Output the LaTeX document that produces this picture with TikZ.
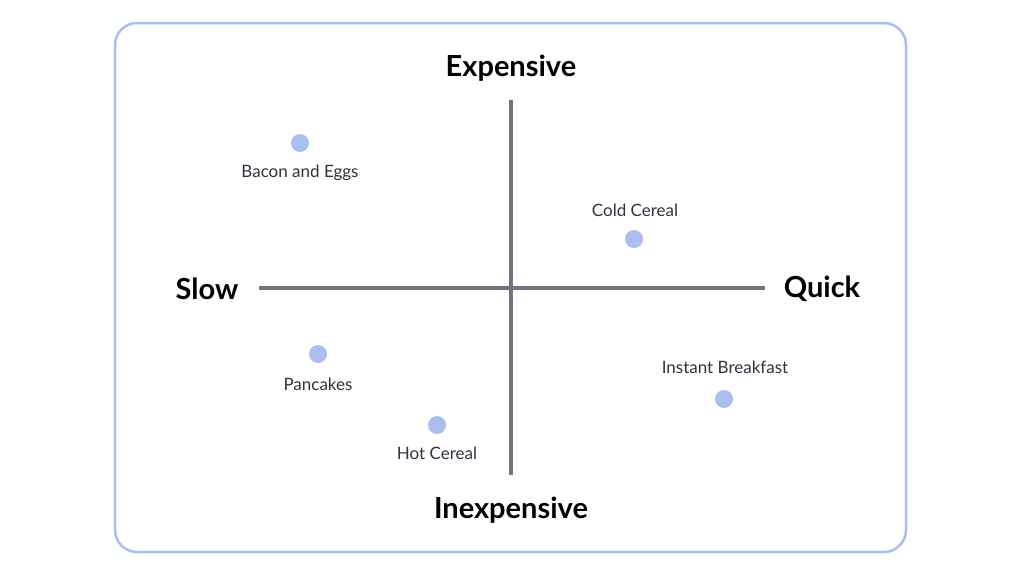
\documentclass[tikz,border=0pt]{standalone}
\usepackage{fontspec}
\setmainfont{Lato}
\definecolor{frame}{HTML}{AABEF0}
\definecolor{axis}{HTML}{6F7683}
\definecolor{txt}{HTML}{2D3440}
\begin{document}
\begin{tikzpicture}[x=1pt,y=-1pt,
  dot/.style={circle,fill=frame,minimum size=18pt,inner sep=0pt},
  lbl/.style={font=\fontsize{17}{20}\selectfont,text=txt},
  ax/.style={font=\bfseries\fontsize{29}{34}\selectfont,text=black}]
\useasboundingbox (0,0) rectangle (1024,576);
\fill[white] (0,0) rectangle (1024,576);
\draw[frame,line width=2.5pt,rounded corners=22pt] (115,23) rectangle (906,552);
\coordinate (t) at (511,100); \coordinate (b) at (511,475);
\coordinate (l) at (259,288); \coordinate (r) at (765,288);
\draw[axis,line width=3.5pt] (t) -- (b);
\draw[axis,line width=3.5pt] (l) -- (r);
\node[ax] (exp) at (511,68) {Expensive};
\node[ax] (inexp) at (511,510) {Inexpensive};
\node[ax] (slow) at (207,289) {Slow};
\node[ax] (quick) at (822,289) {Quick};
\node[dot] (d1) at (300,143) {}; \node[lbl] (l1) at (300,173) {Bacon and Eggs};
\node[dot] (d2) at (634,239) {}; \node[lbl] (l2) at (635,210) {Cold Cereal};
\node[dot] (d3) at (318,354) {}; \node[lbl] (l3) at (318,384) {Pancakes};
\node[dot] (d4) at (437,425) {}; \node[lbl] (l4) at (437,453) {Hot Cereal};
\node[dot] (d5) at (724,399) {}; \node[lbl] (l5) at (725,367) {Instant Breakfast};
\end{tikzpicture}
\end{document}
